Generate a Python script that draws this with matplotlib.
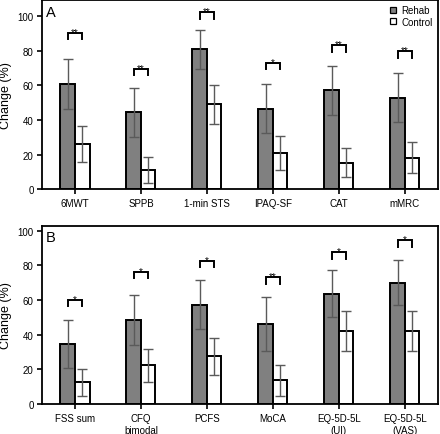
import numpy as np
import matplotlib
matplotlib.use('Agg')
from matplotlib import pyplot as plt
from matplotlib.lines import Line2D

plt.rcParams['font.family'] = ['Liberation Sans', 'DejaVu Sans']

# panel A
labels_a = ['6MWT', 'SPPB', '1-min STS', 'IPAQ-SF', 'CAT', 'mMRC']
rehab_a = [60.8, 44.4, 80.8, 46.6, 57.2, 53.0]
rehab_err_a = [14.2, 14.2, 11.3, 14.2, 14.2, 14.2]
control_a = [26.1, 11.1, 49.0, 20.9, 15.2, 18.1]
control_err_a = [10.3, 7.4, 11.5, 9.6, 8.3, 9.0]
bracket_a = [90.4, 69.6, 102.5, 73.1, 83.3, 79.8]
stars_a = ['**', '**', '**', '*', '**', '**']

# panel B
labels_b = ['FSS sum', 'CFQ\nbimodal', 'PCFS', 'MoCA', 'EQ-5D-5L\n(UI)', 'EQ-5D-5L\n(VAS)']
rehab_b = [34.6, 48.5, 57.3, 46.2, 63.8, 70.0]
rehab_err_b = [13.9, 14.3, 14.2, 15.6, 13.6, 12.9]
control_b = [12.5, 22.3, 27.5, 13.8, 42.2, 42.2]
control_err_b = [7.6, 9.7, 10.5, 9.0, 11.4, 11.4]
bracket_b = [60.2, 76.3, 82.7, 73.1, 87.5, 94.6]
stars_b = ['*', '*', '*', '**', '*', '*']

WIDTH = 0.22
REHAB_COLOR = '#808080'
ERR_COLOR = '#5a5a5a'


def draw_panel(ax, labels, rehab, rehab_err, control, control_err, brackets, stars, letter, ymax,
               legend=False):
    x = np.arange(len(labels))
    ax.bar(x - WIDTH / 2, rehab, WIDTH, color=REHAB_COLOR, edgecolor='black', linewidth=1.4, zorder=2)
    ax.bar(x + WIDTH / 2, control, WIDTH, color='white', edgecolor='black', linewidth=1.4, zorder=2)
    ekw = dict(fmt='none', ecolor=ERR_COLOR, elinewidth=1.0, capsize=3.6, capthick=1.0, zorder=3)
    ax.errorbar(x - WIDTH / 2, rehab, yerr=rehab_err, **ekw)
    ax.errorbar(x + WIDTH / 2, control, yerr=control_err, **ekw)
    for xi, yb, s in zip(x, brackets, stars):
        x0, x1 = xi - WIDTH / 2, xi + WIDTH / 2
        ax.plot([x0, x0, x1, x1], [yb - 3.8, yb, yb, yb - 3.8], color='black', lw=1.4, zorder=3,
                solid_joinstyle='miter')
        ax.text(xi, yb - 1.2, s, ha='center', va='baseline', fontsize=7)
    ax.set_xlim(-0.5, len(labels) - 0.5)
    ax.set_ylim(0, ymax)
    ax.set_xticks(x)
    ax.set_xticklabels(labels, fontsize=7, linespacing=1.2)
    ax.set_yticks(np.arange(0, 101, 20))
    ax.tick_params(axis='y', labelsize=7, length=3.5, width=1.2, pad=2.5)
    ax.tick_params(axis='x', length=3.5, width=1.2, pad=3)
    ax.set_ylabel('Change (%)', fontsize=9)
    ax.yaxis.set_label_coords(-0.075, 0.5)
    for sp in ax.spines.values():
        sp.set_linewidth(1.3)
    ax.text(0.01, 0.975, letter, transform=ax.transAxes, ha='left', va='top', fontsize=10.5)
    if legend:
        handles = [Line2D([], [], ls='none', marker='s', markersize=4, markerfacecolor=REHAB_COLOR,
                          markeredgecolor='black', markeredgewidth=0.9),
                   Line2D([], [], ls='none', marker='s', markersize=4, markerfacecolor='white',
                          markeredgecolor='black', markeredgewidth=0.9)]
        ax.legend(handles, ['Rehab', 'Control'], loc='upper right', frameon=False, fontsize=7,
                  handlelength=0.6, handletextpad=0.5, borderaxespad=0.25, labelspacing=0.15,
                  borderpad=0.3)


fig = plt.figure(figsize=(4.4, 4.35), dpi=100)
ax_a = fig.add_axes([0.0955, 0.563, 0.8995, 0.435])
ax_b = fig.add_axes([0.0955, 0.069, 0.8995, 0.41])
draw_panel(ax_a, labels_a, rehab_a, rehab_err_a, control_a, control_err_a, bracket_a, stars_a, 'A', 109.5,
           legend=True)
draw_panel(ax_b, labels_b, rehab_b, rehab_err_b, control_b, control_err_b, bracket_b, stars_b, 'B', 103)
fig.savefig('out.png', dpi=100)
